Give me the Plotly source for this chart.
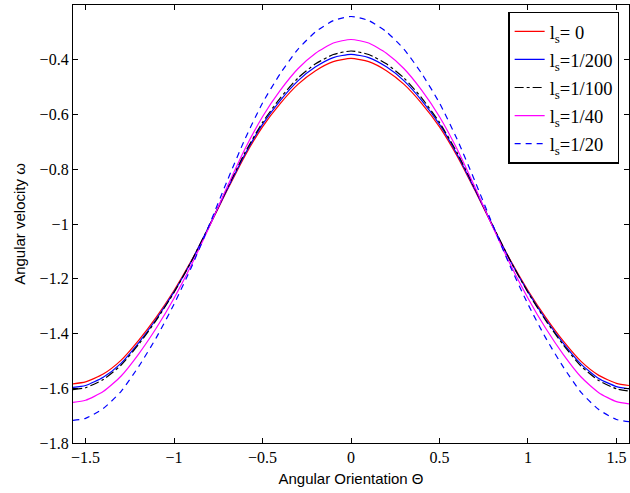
import plotly.graph_objects as go

# Angular orientation samples (radians)
theta = [-1.5708, -1.5, -1.4, -1.3, -1.2, -1.1, -1.0, -0.9, -0.8, -0.7, -0.6, -0.5, -0.4, -0.3, -0.2, -0.1,
         0.0, 0.1, 0.2, 0.3, 0.4, 0.5, 0.6, 0.7, 0.8, 0.9, 1.0, 1.1, 1.2, 1.3, 1.4, 1.5, 1.5708]

omega_ls_0 = [-1.584, -1.577, -1.548, -1.498, -1.425, -1.340, -1.243, -1.132, -1.007, -0.877, -0.752, -0.645,
              -0.560, -0.490, -0.440, -0.407, -0.395, -0.407, -0.440, -0.490, -0.560, -0.645, -0.752, -0.877,
              -1.007, -1.132, -1.243, -1.341, -1.428, -1.502, -1.553, -1.582, -1.590]
omega_ls_200 = [-1.597, -1.590, -1.560, -1.509, -1.434, -1.347, -1.248, -1.134, -1.006, -0.874, -0.746, -0.636,
                -0.549, -0.477, -0.426, -0.392, -0.380, -0.392, -0.426, -0.477, -0.549, -0.636, -0.746, -0.874,
                -1.006, -1.134, -1.248, -1.348, -1.436, -1.512, -1.564, -1.594, -1.602]
omega_ls_100 = [-1.605, -1.598, -1.568, -1.516, -1.440, -1.351, -1.250, -1.134, -1.005, -0.870, -0.740, -0.629,
                -0.540, -0.467, -0.415, -0.381, -0.368, -0.381, -0.415, -0.467, -0.540, -0.629, -0.740, -0.870,
                -1.005, -1.134, -1.250, -1.352, -1.442, -1.519, -1.572, -1.602, -1.610]
omega_ls_40 = [-1.652, -1.644, -1.612, -1.556, -1.475, -1.380, -1.271, -1.147, -1.009, -0.865, -0.727, -0.608,
               -0.512, -0.433, -0.376, -0.339, -0.326, -0.339, -0.376, -0.433, -0.512, -0.608, -0.727, -0.865,
               -1.009, -1.147, -1.271, -1.381, -1.477, -1.559, -1.616, -1.649, -1.657]
omega_ls_20 = [-1.717, -1.710, -1.674, -1.612, -1.521, -1.415, -1.293, -1.155, -1.002, -0.843, -0.691, -0.558,
               -0.451, -0.362, -0.298, -0.257, -0.242, -0.257, -0.298, -0.362, -0.451, -0.558, -0.691, -0.843,
               -1.002, -1.155, -1.293, -1.416, -1.523, -1.615, -1.678, -1.714, -1.722]

series_names = ["l<sub>s</sub>= 0", "l<sub>s</sub>=1/200", "l<sub>s</sub>=1/100", "l<sub>s</sub>=1/40", "l<sub>s</sub>=1/20"]
series_values = [omega_ls_0, omega_ls_200, omega_ls_100, omega_ls_40, omega_ls_20]
series_colors = ["#ff0000", "#0000ff", "#000000", "#ff00ff", "#0000ff"]
series_dash = ["solid", "solid", "dashdot", "solid", "6px,5px"]

x_tickvals = [-1.5, -1, -0.5, 0, 0.5, 1, 1.5]
x_ticktext = ["\u22121.5", "\u22121", "\u22120.5", "0", "0.5", "1", "1.5"]
y_tickvals = [-1.8, -1.6, -1.4, -1.2, -1.0, -0.8, -0.6, -0.4]
y_ticktext = ["\u22121.8", "\u22121.6", "\u22121.4", "\u22121.2", "\u22121", "\u22120.8", "\u22120.6", "\u22120.4"]

SERIF = "Liberation Serif, Times New Roman, serif"
SANS = "Liberation Sans, Arial, sans-serif"

fig = go.Figure()
for name, vals, col, dash in zip(series_names, series_values, series_colors, series_dash):
    fig.add_trace(go.Scatter(x=theta, y=vals, mode="lines", name=name, legendgroup=name,
                             line=dict(color=col, width=1.2, dash=dash, shape="spline", smoothing=0.6)))

axis_common = dict(showline=True, linecolor="black", linewidth=1.3, mirror="ticks", ticks="inside",
                   ticklen=5, tickcolor="black", showgrid=False, zeroline=False, automargin=False,
                   tickfont=dict(family=SERIF, size=16, color="black"))

fig.update_layout(
    width=630, height=493,
    margin=dict(l=73, r=1, t=5, b=50),
    paper_bgcolor="white", plot_bgcolor="white",
    font=dict(family=SERIF, size=16, color="black"),
    xaxis=dict(range=[-1.5708, 1.5708], tickvals=x_tickvals, ticktext=x_ticktext,
               title=dict(text="Angular Orientation \u0398", standoff=8,
                          font=dict(family=SANS, size=15, color="black")),
               **axis_common),
    yaxis=dict(range=[-1.8, -0.2], tickvals=y_tickvals, ticktext=y_ticktext,
               title=dict(text="Angular velocity \u03c9", standoff=10,
                          font=dict(family=SANS, size=15, color="black")),
               **axis_common),
    legend=dict(x=0.783, y=0.985, xanchor="left", yanchor="top", bgcolor="white",
                bordercolor="black", borderwidth=1.3, tracegroupgap=1,
                font=dict(family=SERIF, size=18.5, color="black")),
    showlegend=True,
)

fig.write_html("out.html", config={"displayModeBar": False},
               post_script="document.body.style.margin='0';document.body.style.overflow='hidden';")
